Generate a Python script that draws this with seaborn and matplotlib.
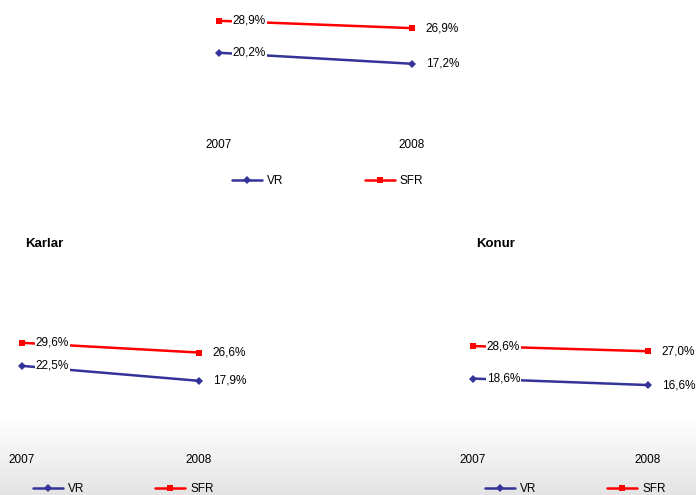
import numpy as np
import pandas as pd
import matplotlib
matplotlib.use("Agg")
import matplotlib.pyplot as plt
import seaborn as sns

years = ["2007", "2008"]
series_names = ["VR", "SFR"]
top_vr = [20.2, 17.2]
top_sfr = [28.9, 26.9]
karlar_vr = [22.5, 17.9]
karlar_sfr = [29.6, 26.6]
konur_vr = [18.6, 16.6]
konur_sfr = [28.6, 27.0]
titles = ["", "Karlar", "Konur"]

sns.set_theme(style="white")
plt.rcParams["font.family"] = ["Liberation Sans", "DejaVu Sans"]
plt.rcParams["text.color"] = "black"
plt.rcParams["xtick.color"] = "black"
plt.rcParams["xtick.labelcolor"] = "black"

W, H = 696, 495
fig = plt.figure(figsize=(W / 100, H / 100), dpi=100)

# background gradient
bg = fig.add_axes([0, 0, 1, 1], zorder=-10)
rows = np.ones((H, 1))
start = 415
for r in range(start, H):
    t = (r - start) / (H - start)
    rows[r, 0] = 1 - 0.11 * t
bg.imshow(rows, cmap="gray", vmin=0, vmax=1, aspect="auto", extent=[0, 1, 0, 1])
bg.set_axis_off()

colors = {"VR": "#333399", "SFR": "#ff0000"}
markers = {"VR": "D", "SFR": "s"}
FS = 8.5


def px_axes(x0, x1, zero_y, scale, top_y=0):
    h = zero_y - top_y
    ax = fig.add_axes([x0 / W, 1 - zero_y / H, (x1 - x0) / W, h / H])
    ax.set_xlim(0, 1)
    ax.set_ylim(0, h / scale)
    return ax


panels = [
    dict(vr=top_vr, sfr=top_sfr, x0=219, x1=412, zero=127, scale=3.675, top=0,
         title=titles[0], tx=None, leg=(232, 181), colsp=6.9, pad=9),
    dict(vr=karlar_vr, sfr=karlar_sfr, x0=22, x1=199, zero=439, scale=3.25, top=230,
         title=titles[1], tx=25, leg=(33, 489), colsp=6.0, pad=10.5),
    dict(vr=konur_vr, sfr=konur_sfr, x0=473, x1=648, zero=439, scale=3.25, top=230,
         title=titles[2], tx=476, leg=(485, 489), colsp=6.0, pad=10.5),
]

for p in panels:
    ax = px_axes(p["x0"], p["x1"], p["zero"], p["scale"], p["top"])
    ax.patch.set_alpha(0)
    df = pd.DataFrame({
        "x": [0, 1, 0, 1],
        "value": list(p["vr"]) + list(p["sfr"]),
        "series": ["VR", "VR", "SFR", "SFR"],
    })
    sns.lineplot(data=df, x="x", y="value", hue="series", style="series",
                 hue_order=series_names, style_order=series_names,
                 palette=colors, markers=markers, dashes=False,
                 linewidth=1.8, markersize=4, markeredgewidth=0,
                 ax=ax, legend=True)
    for ln in ax.get_lines():
        ln.set_clip_on(False)
    handles, labels = ax.get_legend_handles_labels()
    ax.get_legend().remove()
    for name, vals in (("VR", p["vr"]), ("SFR", p["sfr"])):
        for i, v in enumerate(vals):
            txt = f"{v:.1f}%".replace(".", ",")
            kw = {}
            if i == 0:
                kw["bbox"] = dict(boxstyle="square,pad=0.05", fc="white", ec="none")
            ax.annotate(txt, (i, v), xytext=(10, 0), textcoords="offset points",
                        ha="left", va="center", fontsize=FS, color="black", **kw)
    ax.set_xticks([0, 1])
    ax.set_xticklabels(years, fontsize=FS, color="black")
    ax.set_yticks([])
    ax.set_xlabel("")
    ax.set_ylabel("")
    ax.tick_params(axis="x", length=0, pad=p["pad"])
    for s in ax.spines.values():
        s.set_visible(False)
    if p["title"]:
        fig.text(p["tx"] / W, 1 - 244 / H, p["title"], fontsize=9.5,
                 fontweight="bold", ha="left", va="center", color="black")
    lx, ly = p["leg"]
    leg = fig.legend(handles, labels, loc="center left",
                     bbox_to_anchor=(lx / W, 1 - ly / H), bbox_transform=fig.transFigure,
                     ncol=2, frameon=False, fontsize=FS, borderpad=0, borderaxespad=0,
                     handlelength=2.55, handletextpad=0.42, columnspacing=p["colsp"])
    for t in leg.get_texts():
        t.set_color("black")

fig.savefig("out.png", dpi=100)
